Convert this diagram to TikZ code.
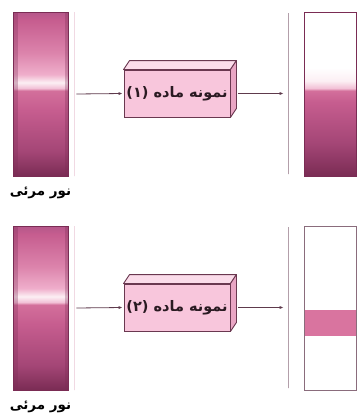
\documentclass[tikz,border=0pt]{standalone}
\usepackage{fontspec}
\newfontfamily\arabicfont[Script=Arabic]{DejaVu Sans}
\TeXXeTstate=1
\usetikzlibrary{arrows.meta,positioning}

\definecolor{bardark}{HTML}{7A2C54}
\definecolor{barmidA}{HTML}{A44676}
\definecolor{barmidB}{HTML}{C65D8F}
\definecolor{barmidC}{HTML}{D36F9B}
\definecolor{barglow}{HTML}{F2C0D6}
\definecolor{barwhite}{HTML}{FCEFF4}
\definecolor{barsoft}{HTML}{EFAECB}
\definecolor{barrose}{HTML}{DC84AC}
\definecolor{bartop}{HTML}{B5578A}
\definecolor{boxpink}{HTML}{F8C6DC}
\definecolor{boxtop}{HTML}{FBDCEA}
\definecolor{boxside}{HTML}{E9A6C4}
\definecolor{boxedge}{HTML}{6A3850}
\definecolor{raycol}{HTML}{5E3A4C}
\definecolor{scrcol}{HTML}{8A6C7C}
\definecolor{faintcol}{HTML}{E9C4D4}
\definecolor{bandpink}{HTML}{D9749F}
\definecolor{txtcol}{HTML}{2A1A22}

% light entering the sample (bottom -> top, path spans 25bp..75bp)
\pgfdeclareverticalshading{inlight}{100bp}{color(0bp)=(bardark); color(25bp)=(bardark);
  color(32.5bp)=(barmidA); color(45bp)=(barmidB); color(51bp)=(barmidC); color(51.75bp)=(barglow);
  color(53.5bp)=(barwhite); color(56bp)=(barsoft); color(62.5bp)=(barrose); color(72.5bp)=(barmidB);
  color(75bp)=(bartop); color(100bp)=(bartop)}
% light leaving sample 1
\pgfdeclareverticalshading{outlight}{100bp}{color(0bp)=(bardark); color(25bp)=(bardark);
  color(35bp)=(barmidA); color(47.5bp)=(barmidB); color(51bp)=(barmidC); color(51.75bp)=(barglow);
  color(54bp)=(barwhite); color(58bp)=(white); color(100bp)=(white)}

\tikzset{
  lightbar/.style={draw=bardark, line width=0.9pt, shading=inlight, minimum width=55pt,
    minimum height=164pt, inner sep=0pt,
    path picture={\fill[bardark, opacity=0.3] (path picture bounding box.south west)
      rectangle ([xshift=5pt]path picture bounding box.north west);
      \fill[bardark, opacity=0.3] (path picture bounding box.north east)
      rectangle ([xshift=-3pt]path picture bounding box.south east);}},
  outfull/.style={draw=bardark, line width=0.9pt, shading=outlight},
  outband/.style={draw=scrcol, line width=0.9pt, fill=white,
    path picture={\fill[bandpink] ([yshift=-2pt]path picture bounding box.west)
      rectangle ([yshift=-28pt]path picture bounding box.east);}},
  outbar/.style={minimum width=52pt, minimum height=164pt, inner sep=0pt},
  faint/.style={draw=faintcol, line width=0.6pt, minimum width=0pt, minimum height=164pt, inner sep=0pt},
  screen/.style={draw=scrcol, line width=0.9pt, minimum width=0pt, minimum height=161pt, inner sep=0pt},
  sample/.style={draw=boxedge, line width=0.9pt, fill=boxpink, minimum width=106pt,
    minimum height=47pt, inner sep=0pt, text=txtcol, font=\arabicfont\bfseries\fontsize{14.5}{17}\selectfont},
  topface/.style={draw=boxedge, line width=0.9pt, fill=boxtop, line join=round},
  sideface/.style={draw=boxedge, line width=0.9pt, fill=boxside, line join=round},
  ray/.style={draw=raycol, line width=0.8pt, -{Latex[length=4pt,width=3.2pt]}},
  caption/.style={font=\arabicfont\bfseries\fontsize{13.5}{16}\selectfont, text=black, inner sep=0pt}
}

\begin{document}
\begin{tikzpicture}[x=1pt, y=-1pt]
  \useasboundingbox (0,0) rectangle (357,416);
  \foreach \i/\yo/\nn/\outstyle in {1/0/{۱}/outfull, 2/214/{۲}/outband} {
    \begin{scope}[yshift=-\yo pt]
      \node[lightbar] (src\i) at (40.5,94) {};
      \node[caption, below=10pt of src\i] (cap\i) {\beginR نور مرئی\endR};
      \node[faint] (slit\i) at (74,94) {};
      \node[sample] (box\i) at (177,93.5) {\beginR نمونه ماده (\nn)\endR};
      \draw[topface] (box\i.north west) -- ++(6,-9) -- ([shift={(6,-9)}]box\i.north east)
        -- (box\i.north east) -- cycle;
      \draw[sideface] (box\i.north east) -- ++(6,-9) -- ([shift={(6,-9)}]box\i.south east)
        -- (box\i.south east) -- cycle;
      \node[screen] (scr\i) at (288,93.5) {};
      \node[outbar, \outstyle] (out\i) at (330,94) {};
      \draw[ray] ([xshift=2pt]slit\i.east) -- ([xshift=-1pt]box\i.west);
      \draw[ray] ([xshift=8pt]box\i.east) -- ([xshift=-4pt]scr\i.west);
    \end{scope}
  }
\end{tikzpicture}
\end{document}
